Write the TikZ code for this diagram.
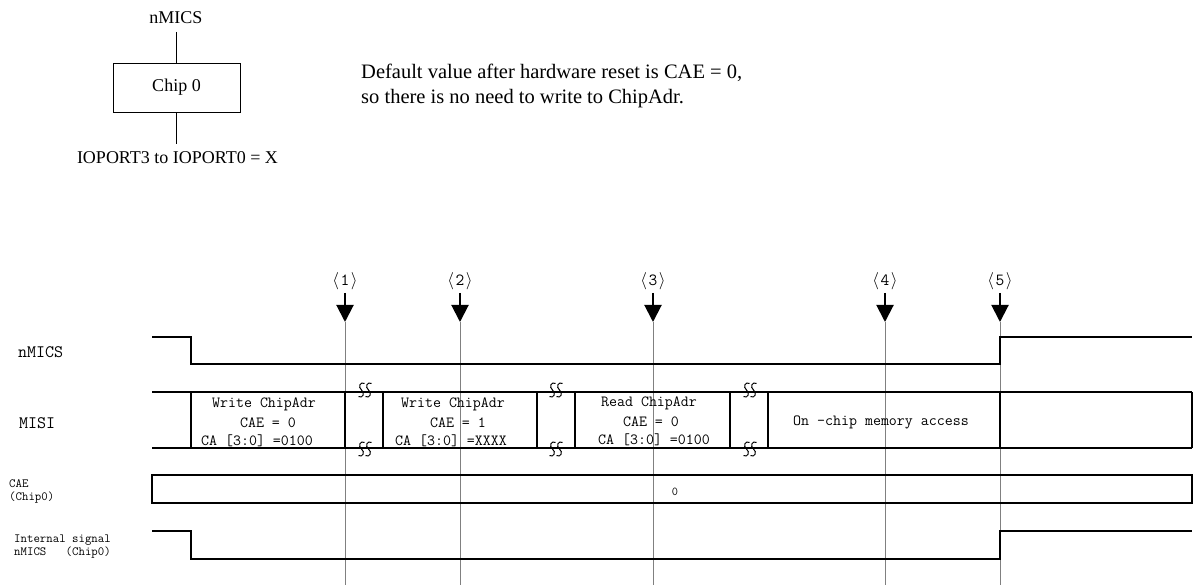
\documentclass[tikz,border=0pt]{standalone}
\usepackage{fontspec}
\setmainfont{Liberation Serif}
\usetikzlibrary{arrows.meta}
\begin{document}
\begin{tikzpicture}[x=1pt,y=-1pt,
  serif18/.style={font=\fontsize{18}{22}\selectfont, inner sep=1pt},
  notetext/.style={font=\fontsize{20.5}{24}\selectfont, anchor=base west, inner sep=0pt},
  siglabel/.style={font=\ttfamily\fontsize{17.5}{21}\selectfont, anchor=west, inner sep=0pt},
  smalllabel/.style={font=\ttfamily\fontsize{12.5}{13}\selectfont, anchor=west, align=left, inner sep=0pt},
  boxtext/.style={font=\ttfamily\fontsize{15.5}{18}\selectfont, inner sep=0pt},
  marklabel/.style={font=\ttfamily\fontsize{17}{19}\selectfont, inner sep=1pt},
  sig/.style={line width=1.6pt, line join=miter},
  guide/.style={draw=black!50, line width=1pt},
  brk/.style={line width=1pt},
  pointer/.style={line width=2pt, -{Triangle[width=17pt,length=17pt]}}
]
\useasboundingbox (0,0) rectangle (1194,585);

% ---- top-left block ----
\node[serif18] (lblN) at (176,18) {nMICS};
\node[draw, line width=0.9pt, minimum width=127pt, minimum height=49pt, serif18] (chip) at (176.5,87.5) {Chip 0};
\node[serif18] (lblIO) at (177.5,158) {IOPORT3 to IOPORT0 = X};
\coordinate (nTop) at (176.5,32);
\coordinate (ioBot) at (176.5,144);
\draw[line width=0.9pt] (nTop) -- (chip.north);
\draw[line width=0.9pt] (chip.south) -- (ioBot);

% ---- note ----
\node[notetext] (note1) at (361,79) {Default value after hardware reset is CAE = 0,};
\node[notetext] (note2) at (361,104) {so there is no need to write to ChipAdr.};

% ---- guide lines and markers ----
\foreach \i/\x in {1/345,2/460,3/653,4/885,5/1000} {
  \node[marklabel] (m\i) at (\x,281) {$\langle$\kern1.5pt\i\kern1.5pt$\rangle$};
  \coordinate (s\i) at (\x,293);
  \coordinate (t\i) at (\x,322);
  \coordinate (b\i) at (\x,585);
  \draw[guide] (t\i) -- (b\i);
  \draw[pointer] (s\i) -- (t\i);
}

% ---- signal labels ----
\node[siglabel] (lN) at (18,352) {nMICS};
\node[siglabel] (lM) at (19,423) {MISI};
\node[smalllabel] (lC) at (9,491) {CAE\\(Chip0)};
\node[smalllabel] (lI) at (14,546.5) {Internal signal\\nMICS~~~(Chip0)};

% ---- nMICS ----
\draw[sig] (152,337) -- (191,337) -- (191,364) -- (1000,364) -- (1000,337) -- (1192,337);

% ---- MISI ----
\draw[sig] (152,392) -- (1192,392);
\draw[sig] (152,448) -- (1192,448);
\foreach \x in {191,345,383,537,575,730,768,1000,1192}
  \draw[sig] (\x,392) -- (\x,448);
\foreach \x/\y in {365/390,556/390,750/390,365/449,556/449,750/449} {
  \foreach \d in {-3.5,3.5}
    \draw[brk] ({\x+\d+3},{\y-6.5}) .. controls ({\x+\d-1},{\y-9}) and ({\x+\d-4},{\y-3}) .. ({\x+\d},{\y})
       .. controls ({\x+\d+4},{\y+3}) and ({\x+\d+1},{\y+9}) .. ({\x+\d-3},{\y+6.5});
}

\node[boxtext] (w1a) at (264,404) {Write ChipAdr};
\node[boxtext] (w1b) at (268,422.5) {CAE = 0};
\node[boxtext] (w1c) at (257,441) {CA [3:0] =0100};
\node[boxtext] (w2a) at (453,404) {Write ChipAdr};
\node[boxtext] (w2b) at (458,422.5) {CAE = 1};
\node[boxtext] (w2c) at (451,441) {CA [3:0] =XXXX};
\node[boxtext] (r3a) at (649,403) {Read ChipAdr};
\node[boxtext] (r3b) at (651,422) {CAE = 0};
\node[boxtext] (r3c) at (654,440) {CA [3:0] =0100};
\node[boxtext] (acc) at (881,422) {On -chip memory access};

% ---- CAE ----
\draw[sig] (152,475) rectangle (1192,503);
\node[font=\ttfamily\fontsize{12}{13}\selectfont, inner sep=0pt] (cae0) at (675,492) {0};

% ---- internal nMICS ----
\draw[sig] (152,531) -- (191,531) -- (191,559) -- (1000,559) -- (1000,531) -- (1192,531);
\end{tikzpicture}
\end{document}
